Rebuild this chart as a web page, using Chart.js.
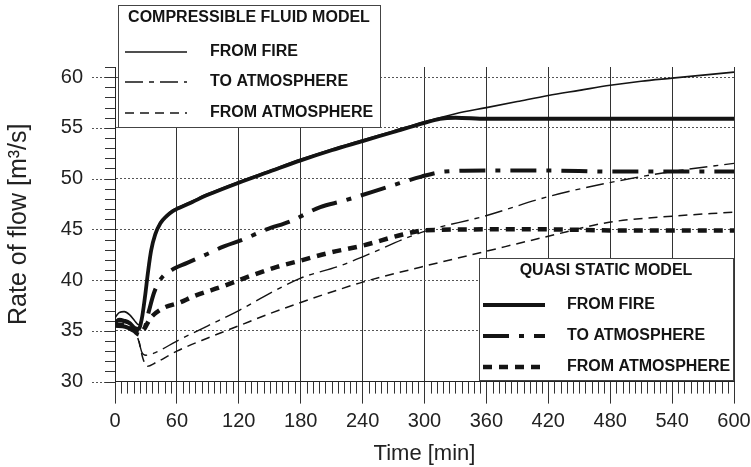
<!DOCTYPE html>
<html>
<head>
<meta charset="utf-8">
<script src="https://cdn.jsdelivr.net/npm/chart.js@4"></script>
<style>
  html, body { margin: 0; padding: 0; background: #fff; }
  #wrap { width: 751px; height: 467px; position: relative; }
</style>
</head>
<body>
<div id="wrap"><canvas id="grafico"></canvas></div>
<script>
// series (time in min, flow in m3/s)
const boxTitles = ['COMPRESSIBLE FLUID MODEL', 'QUASI STATIC MODEL'];
const seriesNames = ['FROM FIRE', 'TO ATMOSPHERE', 'FROM ATMOSPHERE'];
const xTicks = [0, 60, 120, 180, 240, 300, 360, 420, 480, 540, 600];
const yTicks = [30, 35, 40, 45, 50, 55, 60];

// compressible fluid model
const cFireT = [0, 4, 9, 14, 19, 23, 26, 29, 32, 35, 39, 44, 50, 56, 62, 75, 90, 120, 150, 180, 210, 240, 270, 300, 330, 360, 390, 420, 450, 480, 510, 540, 570, 600];
const cFireV = [36.3, 36.8, 36.9, 36.6, 36.0, 35.6, 36.4, 38.5, 41.0, 43.0, 44.6, 45.7, 46.4, 46.9, 47.2, 47.8, 48.5, 49.7, 50.8, 51.9, 52.9, 53.8, 54.7, 55.6, 56.4, 57.0, 57.6, 58.2, 58.7, 59.2, 59.6, 59.9, 60.2, 60.5];
const cToT = [0, 10, 18, 22, 26, 30, 40, 60, 90, 120, 150, 180, 218, 240, 297, 358, 419, 479, 540, 600];
const cToV = [36.0, 35.8, 35.3, 34.5, 32.9, 32.6, 32.9, 34.0, 35.5, 37.0, 38.7, 40.2, 41.4, 42.3, 44.7, 46.3, 48.2, 49.6, 50.7, 51.5];
const cFromT = [0, 10, 18, 23, 27, 31, 40, 60, 90, 120, 150, 180, 218, 240, 297, 358, 419, 479, 540, 600];
const cFromV = [35.8, 35.6, 35.1, 34.0, 32.3, 31.5, 31.9, 33.0, 34.3, 35.5, 36.7, 37.8, 39.1, 39.8, 41.3, 42.8, 44.3, 45.7, 46.3, 46.7];

// quasi static model
const qFireT = [0, 4, 9, 14, 19, 23, 26, 29, 32, 35, 39, 44, 50, 56, 62, 75, 90, 120, 150, 180, 210, 240, 270, 300, 315, 330, 360, 420, 480, 540, 600];
const qFireV = [35.8, 36.1, 36.0, 35.8, 35.3, 35.2, 36.2, 38.3, 40.8, 42.9, 44.5, 45.6, 46.3, 46.8, 47.1, 47.7, 48.4, 49.6, 50.7, 51.8, 52.8, 53.7, 54.6, 55.5, 55.9, 56.0, 55.9, 55.9, 55.9, 55.9, 55.9];
const qToT = [0, 10, 18, 24, 28, 33, 38, 45, 55, 70, 90, 105, 124, 147, 170, 199, 221, 265, 297, 320, 360, 420, 480, 540, 600];
const qToV = [35.5, 35.4, 35.0, 34.6, 35.0, 37.0, 38.8, 40.2, 41.0, 41.7, 42.6, 43.3, 44.0, 45.0, 45.8, 47.2, 47.8, 49.2, 50.2, 50.7, 50.8, 50.8, 50.7, 50.7, 50.7];
const qFromT = [0, 10, 18, 24, 29, 34, 46, 63, 76, 105, 131, 157, 179, 208, 240, 279, 300, 360, 420, 480, 540, 600];
const qFromV = [35.6, 35.5, 35.2, 34.8, 35.3, 36.2, 37.2, 37.8, 38.4, 39.4, 40.4, 41.3, 41.9, 42.7, 43.4, 44.5, 44.9, 45.0, 45.0, 44.9, 44.9, 44.9];

const pts = (t, v) => t.map((x, i) => ({x: x, y: v[i]}));
const ink = '#141414';

function serie(label, t, v, width, dash, group){
  return {
    label: label, group: group,
    data: pts(t, v),
    borderColor: ink, backgroundColor: ink,
    borderWidth: width, borderDash: dash,
    pointRadius: 0, fill: false,
    cubicInterpolationMode: 'monotone'
  };
}

// legend boxes + minor ticks drawn over the chart
const extras = {
  id: 'extras',
  afterDraw(chart){
    const ctx = chart.ctx, a = chart.chartArea;
    const x = chart.scales.x, y = chart.scales.y;
    ctx.save();
    ctx.strokeStyle = '#333';
    ctx.lineWidth = 1;
    ctx.beginPath();
    for (let t = 0; t <= 600; t += 6){
      if (t % 60 === 0) continue;
      const px = Math.round(x.getPixelForValue(t)) + 0.5;
      ctx.moveTo(px, a.bottom); ctx.lineTo(px, a.bottom + 12);
    }
    for (let v = 30; v <= 61; v++){
      const py = Math.round(y.getPixelForValue(v)) + 0.5;
      ctx.moveTo(a.left - 10, py); ctx.lineTo(a.left, py);
    }
    ctx.stroke();
    ctx.setLineDash([2, 2]);
    ctx.strokeStyle = '#555';
    ctx.beginPath();
    for (const v of yTicks){
      const py = Math.round(y.getPixelForValue(v)) + 0.5;
      ctx.moveTo(a.left - 23, py); ctx.lineTo(a.left - 10, py);
    }
    ctx.stroke();
    ctx.setLineDash([]);

    const ds = chart.data.datasets;
    drawBox(ctx, {x: 118, y: 5, w: 262, h: 122, sx: 125, sw: 62, tx: 210, titleY: 18, rows: [52, 82, 113]}, boxTitles[0], ds.filter(d => d.group === 0));
    drawBox(ctx, {x: 479, y: 258, w: 254, h: 122, sx: 483, sw: 62, tx: 567, titleY: 271, rows: [305, 336, 367]}, boxTitles[1], ds.filter(d => d.group === 1));
    ctx.restore();
  }
};

function drawBox(ctx, b, title, items){
  ctx.fillStyle = '#fff';
  ctx.fillRect(b.x, b.y, b.w, b.h);
  ctx.strokeStyle = '#444';
  ctx.lineWidth = 1;
  ctx.setLineDash([]);
  ctx.strokeRect(b.x + 0.5, b.y + 0.5, b.w, b.h);
  ctx.fillStyle = ink;
  ctx.font = 'bold 16px "Liberation Sans", Arial, sans-serif';
  ctx.textBaseline = 'middle';
  ctx.textAlign = 'center';
  ctx.fillText(title, b.x + b.w / 2, b.titleY);
  ctx.textAlign = 'left';
  items.forEach((d, i) => {
    const yy = b.rows[i];
    ctx.strokeStyle = ink;
    ctx.lineWidth = d.borderWidth;
    ctx.setLineDash(d.borderDash || []);
    ctx.beginPath();
    ctx.moveTo(b.sx, yy); ctx.lineTo(b.sx + b.sw, yy);
    ctx.stroke();
    ctx.setLineDash([]);
    ctx.fillText(d.label, b.tx, yy);
  });
}

const graph = new Chart(document.getElementById('grafico').getContext('2d'), {
  type: 'line',
  data: {
    datasets: [
      serie(seriesNames[0], cFireT, cFireV, 1.6, [], 0),
      serie(seriesNames[1], cToT, cToV, 1.4, [18, 6, 5, 6], 0),
      serie(seriesNames[2], cFromT, cFromV, 1.5, [9, 6], 0),
      serie(seriesNames[0], qFireT, qFireV, 3.8, [], 1),
      serie(seriesNames[1], qToT, qToV, 4, [26, 10, 5, 10], 1),
      serie(seriesNames[2], qFromT, qFromV, 4.5, [9, 7], 1)
    ]
  },
  options: {
    responsive: true,
    maintainAspectRatio: false,
    animation: false,
    layout: { padding: { top: 67, right: 17, left: 0, bottom: 0 } },
    plugins: { legend: { display: false }, tooltip: { enabled: false } },
    scales: {
      x: {
        type: 'linear', min: 0, max: 600,
        afterBuildTicks: s => { s.ticks = xTicks.map(v => ({value: v})); },
        afterFit: s => { s.paddingLeft = 0; s.paddingRight = 0; },
        grid: { color: '#333', lineWidth: 1, tickLength: 22, tickColor: '#333' },
        border: { color: '#222', width: 1 },
        ticks: { padding: 6, color: '#222', maxRotation: 0, font: { family: '"Liberation Sans", Arial', size: 20 } },
        title: { display: true, text: 'Time [min]', color: '#222', padding: { top: 1, bottom: 0 }, font: { family: '"Liberation Sans", Arial', size: 22 } }
      },
      y: {
        min: 30, max: 61,
        afterBuildTicks: s => { s.ticks = yTicks.map(v => ({value: v})); },
        afterFit: s => { s.width = 115; },
        grid: { color: '#555', lineWidth: 1, drawTicks: false },
        border: { color: '#222', width: 1, dash: [2, 2] },
        ticks: { padding: 32, color: '#222', font: { family: '"Liberation Sans", Arial', size: 20 } },
        title: { display: true, text: 'Rate of flow [m³/s]', color: '#222', padding: { top: 4, bottom: 0 }, font: { family: '"Liberation Sans", Arial', size: 25 } }
      }
    }
  },
  plugins: [extras]
});
</script>
</body>
</html>
